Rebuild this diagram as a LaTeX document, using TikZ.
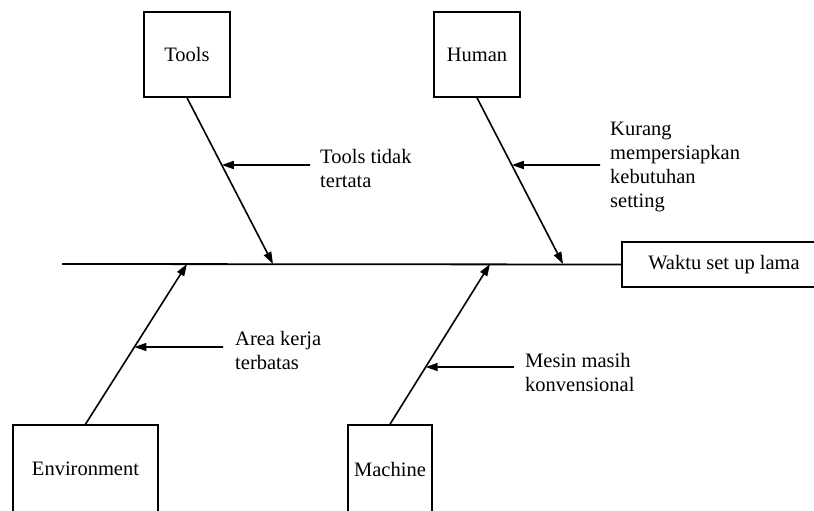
\documentclass[tikz,border=0pt]{standalone}
\usepackage{fontspec}
\setmainfont{Liberation Serif}
\usetikzlibrary{arrows.meta}
\begin{document}
\begin{tikzpicture}[x=1pt,y=-1pt,
  every node/.style={font=\fontsize{20.5}{24}\selectfont},
  catbox/.style={draw,line width=1.6pt,inner sep=0pt,minimum width=86pt,minimum height=85pt},
  bone/.style={line width=1.6pt,-{Triangle[length=12pt,width=8pt]}},
  cause/.style={align=left,anchor=north west,inner sep=0pt},
  lbl/.style={line width=1.6pt,-{Triangle[length=12pt,width=8pt]}}]
\useasboundingbox (0,0) rectangle (814,511);
\clip (0,0) rectangle (814,511);
% boxes
\node[catbox] (tools) at (187,54.5) {Tools};
\node[catbox] (human) at (477,54.5) {Human};
\node[catbox,minimum width=145pt,minimum height=88pt] (env) at (85.5,469) {Environment};
\node[catbox,minimum width=84pt,minimum height=88pt] (mach) at (390,469) {Machine};
\node[draw,line width=1.6pt,minimum width=204pt,minimum height=45pt,inner sep=0pt] (effect) at (724,264.5) {\raisebox{2pt}{Waktu set up lama}};
% spine
\coordinate (spineL) at (62,264);
\draw[line width=1.8pt] (spineL) -- (effect.west);
% bone ends on spine
\coordinate (t1) at (273,264);
\coordinate (h1) at (563,264);
\coordinate (e1) at (187,264);
\coordinate (m1) at (490,264);
\draw[bone] (tools.south) -- (t1);
\draw[bone] (human.south) -- (h1);
\draw[bone] (env.north) -- (e1);
\draw[bone] (mach.north) -- (m1);
% cause arrows
\coordinate (tl) at (310,165);
\coordinate (hl) at (600,165);
\coordinate (el) at (223,347);
\coordinate (ml) at (514,367);
\draw[lbl] (tl) -- (intersection of tools.south--t1 and tl--{(0,165)});
\draw[lbl] (hl) -- (intersection of human.south--h1 and hl--{(0,165)});
\draw[lbl] (el) -- (intersection of env.north--e1 and el--{(0,347)});
\draw[lbl] (ml) -- (intersection of mach.north--m1 and ml--{(0,367)});
% texts
\node[cause] (tt) at (320,149) {Tools tidak\\tertata};
\node[cause] (ht) at (610,122) {Kurang\\mempersiapkan\\kebutuhan\\setting};
\node[cause] (et) at (235,331) {Area kerja\\terbatas};
\node[cause] (mt) at (525,353) {Mesin masih\\konvensional};
\end{tikzpicture}
\end{document}
